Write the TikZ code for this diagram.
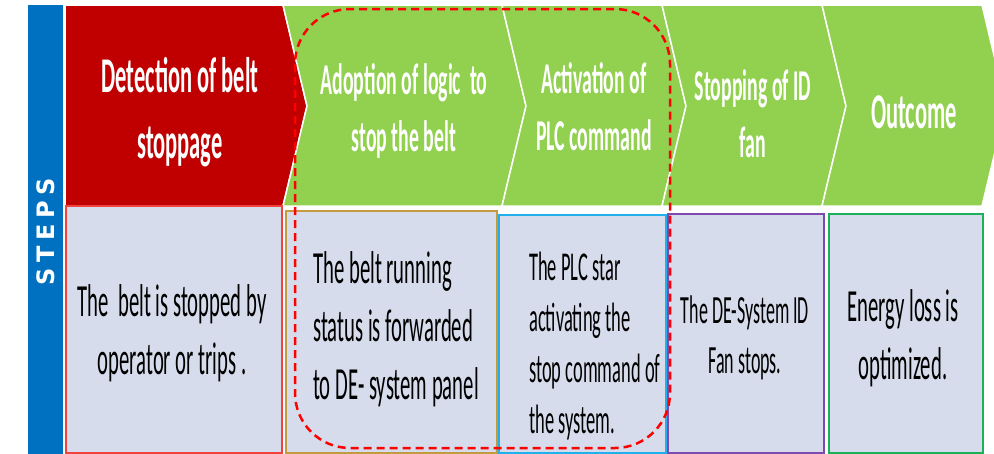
\documentclass[tikz,border=0pt]{standalone}
\usepackage{fontspec}
\usepackage{tikz}
\definecolor{stepblue}{HTML}{0070C0}
\definecolor{stepred}{HTML}{C00000}
\definecolor{stepgreen}{HTML}{92D050}
\definecolor{panel}{HTML}{D6DCEB}
\definecolor{edgered}{HTML}{F2423F}
\definecolor{edgegold}{HTML}{C39A3E}
\definecolor{edgecyan}{HTML}{22B0EC}
\definecolor{edgeviolet}{HTML}{7E4AB0}
\definecolor{edgegreen}{HTML}{1DB05A}
\definecolor{focusred}{HTML}{FF0000}
\newfontfamily\narrowfont[FakeStretch=0.45]{Carlito}
\newfontfamily\barfont[LetterSpace=24]{DejaVu Sans}

\begin{document}
\begin{tikzpicture}[x=1pt,y=-1pt,
  chev/.style={draw=white,line width=1.5pt,line join=miter},
  head/.style={text=white,align=center,inner sep=0pt,
               font=\narrowfont\bfseries\fontsize{44}{57}\selectfont},
  panelbox/.style={fill=panel,line width=1.5pt,anchor=north west,inner sep=0pt},
  body/.style={align=center,inner sep=0pt,font=\narrowfont\fontsize{46}{58}\selectfont},
  focus/.style={draw=focusred,line width=2.5pt,dash pattern=on 8pt off 5pt,
                rounded corners=55pt}]
\clip (0,0) rectangle (994,453);
\node[fill=stepblue,anchor=north west,inner sep=0pt,minimum width=35pt,minimum height=450pt] (bar) at (28,5) {};
\node[rotate=90,text=white,inner sep=0pt,font=\barfont\bfseries\fontsize{24}{24}\selectfont] (barlabel) at (46,232) {STEPS};

\filldraw[chev,fill=stepred] (65,5) -- (283,5) -- (307,106) -- (283,206) -- (65,206) -- cycle;
\foreach \l/\r in {283/502,502/662,662/822,822/982}
  \filldraw[chev,fill=stepgreen] (\l,5) -- (\r,5) -- (\r+24,106) -- (\r,206) -- (\l,206) -- (\l+24,106) -- cycle;

\node[head,font=\narrowfont\bfseries\fontsize{50}{66}\selectfont] (hd1) at (180,112) {Detection of belt\\stoppage};
\node[head] (hd2) at (404,111) {Adoption of logic\ \ to\\stop the belt};
\node[head] (hd3) at (594,107) {Activation of\\PLC command};
\node[head] (hd4) at (753,114) {Stopping of ID\\fan};
\node[head,font=\narrowfont\bfseries\fontsize{50}{60}\selectfont] (hd5) at (914,112) {Outcome};

\node[panelbox,draw=edgered,minimum width=216pt,minimum height=247pt] (box1) at (65,205) {};
\node[panelbox,draw=edgegold,minimum width=211pt,minimum height=242pt] (box2) at (285,210) {};
\node[panelbox,draw=edgecyan,minimum width=167pt,minimum height=238pt] (box3) at (498,214) {};
\node[panelbox,draw=edgeviolet,minimum width=156pt,minimum height=239pt] (box4) at (667,213) {};
\node[panelbox,draw=edgegreen,minimum width=154pt,minimum height=239pt] (box5) at (828,213) {};

\node[body] (txt1) at (172,333) {The\ \ belt is stopped by\\operator or trips .};
\node[body,align=left,anchor=west] (txt2) at (313,329) {The belt running\\status is forwarded\\to DE- system panel};
\node[body,align=left,anchor=west,font=\narrowfont\fontsize{41}{51}\selectfont] (txt3) at (529,346) {The PLC star\\activating the\\stop command of\\the system.};
\node[body,font=\narrowfont\fontsize{40}{50}\selectfont] (txt4) at (745,338) {The DE-System ID\\Fan stops.};
\node[body] (txt5) at (903,338) {Energy loss is\\optimized.};

\draw[focus] (295,9) rectangle (670,448);
\end{tikzpicture}
\end{document}
